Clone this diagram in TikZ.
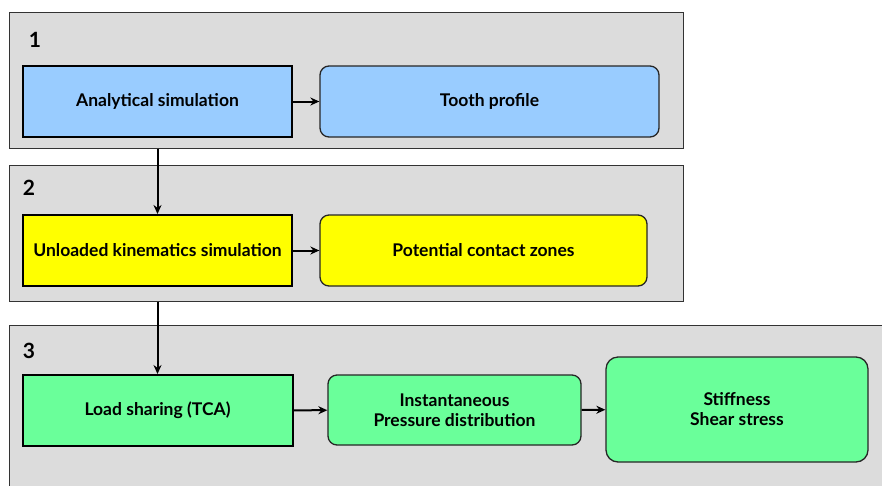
\documentclass[tikz,border=0pt]{standalone}
\usepackage{fontspec}
\setmainfont{Lato}
\usetikzlibrary{positioning,arrows.meta}

\definecolor{panelgray}{HTML}{DCDCDC}
\definecolor{boxblue}{HTML}{99CCFF}
\definecolor{boxyellow}{HTML}{FFFF00}
\definecolor{boxgreen}{HTML}{6AFF9A}

\tikzset{
  panel/.style={draw=black!80, fill=panelgray, line width=1pt},
  stepbox/.style={draw=black, line width=2pt, align=center,
    minimum width=269pt, minimum height=71pt, inner sep=0pt},
  resultbox/.style={draw=black!85, line width=1.3pt, rounded corners=9pt,
    align=center, minimum height=71pt, inner sep=0pt},
  txt/.style={font=\fontsize{17.5}{20}\selectfont\bfseries},
  num/.style={font=\fontsize{21}{21}\selectfont\bfseries},
  flow/.style={-{Stealth[length=9pt,width=8pt]}, line width=2pt},
}

\begin{document}
\begin{tikzpicture}[x=1pt,y=-1pt]
\clip (0,0) rectangle (882,485);
\fill[white] (0,0) rectangle (882,485);

\def\xa{157.5}

% panels
\node[panel, minimum width=674pt, minimum height=136pt, inner sep=0pt] (p1) at (346,80) {};
\node[panel, minimum width=674pt, minimum height=136pt, inner sep=0pt] (p2) at (346,233) {};
\node[panel, minimum width=890pt, minimum height=170pt, inner sep=0pt] (p3) at (454,410) {};

\node[num] (n1) at (35,40) {1};
\node[num] (n2) at (29,188) {2};
\node[num] (n3) at (29,351) {3};

% row 1
\node[stepbox, fill=boxblue, txt] (ana) at (\xa,101.5) {Analytical simulation};
\node[resultbox, fill=boxblue, txt, minimum width=339pt] (tooth) at (489.5,101.5) {Tooth profile};

% row 2
\node[stepbox, fill=boxyellow, txt] (kin) at (\xa,250.5) {Unloaded kinematics simulation};
\node[resultbox, fill=boxyellow, txt, minimum width=327pt] (zone) at (483.5,250.5) {Potential contact zones};

% row 3
\node[stepbox, fill=boxgreen, txt, minimum width=270pt] (tca) at (\xa,410.5) {Load sharing (TCA)};
\node[resultbox, fill=boxgreen, txt, minimum width=253pt, minimum height=70pt] (press) at (454.5,410) {Instantaneous\\Pressure distribution};
\node[resultbox, fill=boxgreen, txt, minimum width=262pt, minimum height=105pt, rounded corners=12pt] (stiff) at (737,409.5) {Stiffness\\Shear stress};

\draw[flow] (ana) -- (tooth);
\draw[flow] (kin) -- (zone);
\draw[flow] (tca) -- (press);
\draw[flow] (press) -- (stiff);

\draw[flow] (ana |- p1.south) -- (kin.north);
\draw[flow] (kin |- p2.south) -- (tca.north);

\end{tikzpicture}
\end{document}
